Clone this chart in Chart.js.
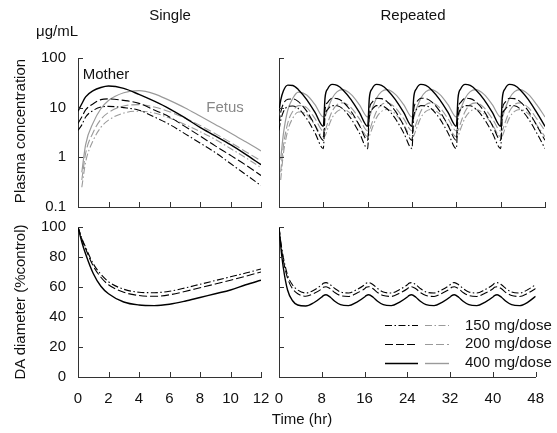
<!DOCTYPE html>
<html><head><meta charset="utf-8">
<script src="https://cdn.jsdelivr.net/npm/chart.js@4"></script>
<style>
html,body{margin:0;padding:0;background:#fff;}
#wrap{position:relative;width:557px;height:433px;overflow:hidden;font-family:"Liberation Sans",Arial,sans-serif;color:#111;}
#wrap canvas{position:absolute;left:0;top:0;}
.t{position:absolute;white-space:nowrap;font-size:15px;line-height:1;transform:translate(-50%,-50%);}
.r{transform:translate(-50%,-50%) rotate(-90deg);}
</style></head><body>
<div id="wrap">
<canvas id="cTL" width="557" height="433"></canvas>
<canvas id="cTR" width="557" height="433"></canvas>
<canvas id="cBL" width="557" height="433"></canvas>
<canvas id="cBR" width="557" height="433"></canvas>
<div class="t" style="left:170px;top:14px">Single</div>
<div class="t" style="left:413px;top:14px">Repeated</div>
<div class="t" style="left:57px;top:30px">μg/mL</div>
<div class="t" style="left:106px;top:73px">Mother</div>
<div class="t" style="left:225px;top:106px;color:#888">Fetus</div>
<div class="t r" style="left:19px;top:131px">Plasma concentration</div>
<div class="t r" style="left:19px;top:302px">DA diameter (%control)</div>
<div class="t" style="left:302px;top:418px">Time (hr)</div>
</div>
<script>
// ---------- data ----------
const tS = [0,0.25,0.5,1,1.5,2,3,4,5,6,7,8,9,10,11,12];
const single150Mother = [3.5,4.5,6.5,8.8,10.3,10.6,10,8.9,6.5,4.6,3,1.95,1.25,0.75,0.45,0.27];
const single200Mother = [4.8,6.5,9,12,14.5,15,14,12.2,9,6.5,4.2,2.7,1.7,1.1,0.7,0.43];
const single400Mother = [8.5,12,16.5,22,25.5,27.3,24.5,18.5,13.5,9.5,6.3,4,2.7,1.8,1.15,0.71];
const single150Fetus = [null,0.25,0.8,2.2,4,5.6,7.8,8.5,7.8,6.2,4.6,3.3,2.3,1.5,0.98,0.62];
const single200Fetus = [null,0.35,1.2,3.2,5.8,8,10.8,11.5,10.3,8.3,6.2,4.4,3.0,2.0,1.3,0.85];
const single400Fetus = [null,0.5,1.8,5,9.5,14,20,22,19,14,10,6.8,4.6,3.1,2.05,1.35];

const daSingle150 = [100,92.5,86.5,75.5,68.5,63.5,58.5,56.5,56.2,57.2,59.3,61.8,64.3,66.8,69.3,72];
const daSingle200 = [100,92,85.5,74,66.5,61.5,56.5,54.3,53.8,54.8,57,59.5,62,64.5,67.2,70];
const daSingle400 = [100,90,82,69,60.5,55.5,50,48,47.6,48.5,50.5,53,55.5,58,61.5,64.5];

const tR = [0,0.3,0.8,1.6,2.5,3.5,5,6.5, 8,8.3,8.8,9.6,10.5,11.5,13,14.5, 16,16.3,16.8,17.6,18.5,19.5,21,22.5, 24,24.3,24.8,25.6,26.5,27.5,29,30.5, 32,32.3,32.8,33.6,34.5,35.5,37,38.5, 40,40.3,40.8,41.6,42.5,43.5,45,46.5, 48];
const rep150Mother = [3.5,5.5,8.3,10.5,10.8,9.6,6,3.1, 1.5,6.5,9.2,11,10.9,9.5,6,3.1, 1.5,6.5,9.2,11,10.9,9.5,6,3.1, 1.5,6.5,9.2,11,10.9,9.5,6,3.1, 1.5,6.5,9.2,11,10.9,9.5,6,3.1, 1.5,6.5,9.2,11,10.9,9.5,6,3.1, 1.5];
const rep200Mother = [4.8,8,12,14.8,15,13.2,8.5,4.4, 2.2,9,12.8,15.5,15.2,13.2,8.5,4.4, 2.2,9,12.8,15.5,15.2,13.2,8.5,4.4, 2.2,9,12.8,15.5,15.2,13.2,8.5,4.4, 2.2,9,12.8,15.5,15.2,13.2,8.5,4.4, 2.2,9,12.8,15.5,15.2,13.2,8.5,4.4, 2.2];
const rep400Mother = [8.5,14,22,28.5,28,23,14.5,8, 4.2,15.5,24,29.5,28,23,14.5,8, 4.2,15.5,24,29.5,28,23,14.5,8, 4.2,15.5,24,29.5,28,23,14.5,8, 4.2,15.5,24,29.5,28,23,14.5,8, 4.2,15.5,24,29.5,28,23,14.5,8, 4.2];
const rep150Fetus = [null,0.35,1.2,3.5,6.2,8.2,7.3,4.4, 2.6,2.7,3.8,6.3,8.4,9.2,7.5,4.5, 2.6,2.7,3.8,6.3,8.4,9.2,7.5,4.5, 2.6,2.7,3.8,6.3,8.4,9.2,7.5,4.5, 2.6,2.7,3.8,6.3,8.4,9.2,7.5,4.5, 2.6,2.7,3.8,6.3,8.4,9.2,7.5,4.5, 2.6];
const rep200Fetus = [null,0.5,1.7,5,8.5,11,10,6, 3.4,3.5,5,8.5,11.5,12.5,10,6, 3.4,3.5,5,8.5,11.5,12.5,10,6, 3.4,3.5,5,8.5,11.5,12.5,10,6, 3.4,3.5,5,8.5,11.5,12.5,10,6, 3.4,3.5,5,8.5,11.5,12.5,10,6, 3.4];
const rep400Fetus = [null,0.9,3,9,15.5,20.5,18,11.5, 6.5,6.6,9.5,15.5,21,23,18.5,11.5, 6.5,6.6,9.5,15.5,21,23,18.5,11.5, 6.5,6.6,9.5,15.5,21,23,18.5,11.5, 6.5,6.6,9.5,15.5,21,23,18.5,11.5, 6.5,6.6,9.5,15.5,21,23,18.5,11.5, 6.5];

const daRep150 = [100,91,80,68,61.5,58,56,57.8, 61.5,62.5,62.9,61.5,58.8,56.7,56,58.2, 61.5,62.5,62.9,61.5,58.8,56.7,56,58.2, 61.5,62.5,62.9,61.5,58.8,56.7,56,58.2, 61.5,62.5,62.9,61.5,58.8,56.7,56,58.2, 61.5,62.5,62.9,61.5,58.8,56.7,56,58.2, 61.6];
const daRep200 = [100,90,78,66,59,55.5,53.8,55.6, 58.8,59.8,60.2,58.8,56.2,54.3,53.7,55.8, 58.8,59.8,60.2,58.8,56.2,54.3,53.7,55.8, 58.8,59.8,60.2,58.8,56.2,54.3,53.7,55.8, 58.8,59.8,60.2,58.8,56.2,54.3,53.7,55.8, 58.8,59.8,60.2,58.8,56.2,54.3,53.7,55.8, 59];
const daRep400 = [100,88,73,58,51,48,47.3,49.5, 53.3,54.3,54.8,53.2,50.3,48.2,47.6,49.8, 53.3,54.3,54.8,53.2,50.3,48.2,47.6,49.8, 53.3,54.3,54.8,53.2,50.3,48.2,47.6,49.8, 53.3,54.3,54.8,53.2,50.3,48.2,47.6,49.8, 53.3,54.3,54.8,53.2,50.3,48.2,47.6,49.8, 53.8];

const concTicks = [0.1, 1, 10, 100];
const concTickLabels = ['0.1', '1', '10', '100'];
const doseLabels = ['150 mg/dose', '200 mg/dose', '400 mg/dose'];

// ---------- styles ----------
const BLACK = '#000', GRAY = '#9a9a9a', AXIS = '#333';
const DASHDOT = [7, 2.5, 1.5, 2.5], DASH = [8, 3], SOLID = [];
const FONT = "'Liberation Sans', Arial, sans-serif";
Chart.defaults.font.family = FONT;
Chart.defaults.font.size = 15;
Chart.defaults.color = '#111';

function ds(ts, arr, color, dash, w) {
  return {
    data: ts.map((t, i) => ({x: t, y: arr[i]})),
    borderColor: color, borderDash: dash, borderWidth: w,
    pointRadius: 0, fill: false, cubicInterpolationMode: 'monotone', spanGaps: false
  };
}

const inwardTicks = {
  id: 'inwardTicks',
  afterDraw(chart) {
    const ctx = chart.ctx, a = chart.chartArea, xs = chart.scales.x, ys = chart.scales.y;
    ctx.save();
    ctx.strokeStyle = AXIS; ctx.lineWidth = 1; ctx.setLineDash([]);
    ctx.beginPath();
    xs.ticks.forEach(t => {
      const px = Math.round(xs.getPixelForValue(t.value)) + 0.5;
      ctx.moveTo(px, a.bottom); ctx.lineTo(px, a.bottom - 5);
    });
    ys.ticks.forEach(t => {
      const py = Math.round(ys.getPixelForValue(t.value)) + 0.5;
      ctx.moveTo(a.left, py); ctx.lineTo(a.left + 5, py);
    });
    ctx.stroke();
    ctx.restore();
  }
};

const legendPlugin = {
  id: 'doseLegend',
  afterDraw(chart) {
    const ctx = chart.ctx;
    const rows = [[DASHDOT, 325], [DASH, 343.5], [SOLID, 362.5]];
    ctx.save();
    rows.forEach((r, i) => {
      const y = Math.round(r[1]) + 0.5;
      ctx.setLineDash(r[0]);
      ctx.lineWidth = i === 2 ? 1.4 : 1.1;
      ctx.strokeStyle = BLACK;
      ctx.beginPath(); ctx.moveTo(385, y); ctx.lineTo(418, y); ctx.stroke();
      ctx.strokeStyle = GRAY;
      ctx.beginPath(); ctx.moveTo(425, y); ctx.lineTo(449, y); ctx.stroke();
      ctx.setLineDash([]);
      ctx.fillStyle = '#111';
      ctx.font = '15px ' + FONT;
      ctx.textAlign = 'left'; ctx.textBaseline = 'middle';
      ctx.fillText(doseLabels[i], 465, r[1] + 0.5);
    });
    ctx.restore();
  }
};

function makeChart(id, area, xMax, xStep, xLabels, yCfg, yLabels, datasets, extra) {
  const xH = xLabels ? 40 : 0;
  const yScale = Object.assign({
    border: {display: true, color: AXIS, width: 1},
    grid: {drawOnChartArea: false, drawTicks: false},
    afterFit(s) { s.width = area.l; }
  }, yCfg);
  yScale.ticks = Object.assign({display: yLabels, padding: 12, color: '#111'}, yCfg.ticks || {});
  return new Chart(document.getElementById(id), {
    type: 'line',
    data: {datasets},
    plugins: [inwardTicks].concat(extra || []),
    options: {
      responsive: false, animation: false, events: [],
      layout: {padding: {left: 0, top: area.t, right: 557 - area.r, bottom: 433 - area.b - xH}},
      plugins: {legend: {display: false}, tooltip: {enabled: false}, title: {display: false}},
      scales: {
        x: {
          type: 'linear', min: 0, max: xMax,
          border: {display: true, color: AXIS, width: 1},
          grid: {drawOnChartArea: false, drawTicks: false},
          ticks: {display: xLabels, stepSize: xStep, padding: 13, color: '#111', maxRotation: 0, autoSkip: false},
          afterFit(s) { s.height = xH; }
        },
        y: yScale
      }
    }
  });
}

const logY = {
  type: 'logarithmic', min: 0.1, max: 100,
  afterBuildTicks(s) { s.ticks = concTicks.map(v => ({value: v})); },
  ticks: {callback: (v) => { const i = concTicks.indexOf(v); return i >= 0 ? concTickLabels[i] : ''; }}
};
const linY = {type: 'linear', min: 0, max: 100, ticks: {stepSize: 20}};

function concSets(ts, m150, m200, m400, f150, f200, f400) {
  return [
    ds(ts, m400, BLACK, SOLID, 1.4),
    ds(ts, m200, BLACK, DASH, 1.1),
    ds(ts, m150, BLACK, DASHDOT, 1.1),
    ds(ts, f400, GRAY, SOLID, 1.2),
    ds(ts, f200, GRAY, DASH, 1.1),
    ds(ts, f150, GRAY, DASHDOT, 1.1)
  ];
}

makeChart('cTL', {l: 78, r: 261, t: 58, b: 207}, 12, 2, false, logY, true,
  concSets(tS, single150Mother, single200Mother, single400Mother, single150Fetus, single200Fetus, single400Fetus));
makeChart('cTR', {l: 279, r: 545, t: 58, b: 207}, 48, 8, false, logY, false,
  concSets(tR, rep150Mother, rep200Mother, rep400Mother, rep150Fetus, rep200Fetus, rep400Fetus));
makeChart('cBL', {l: 78, r: 261, t: 227, b: 377}, 12, 2, true, linY, true, [
  ds(tS, daSingle400, BLACK, SOLID, 1.4),
  ds(tS, daSingle200, BLACK, DASH, 1.1),
  ds(tS, daSingle150, BLACK, DASHDOT, 1.1)
]);
makeChart('cBR', {l: 279, r: 545, t: 227, b: 377}, 48, 8, true, linY, false, [
  ds(tR, daRep400, BLACK, SOLID, 1.4),
  ds(tR, daRep200, BLACK, DASH, 1.1),
  ds(tR, daRep150, BLACK, DASHDOT, 1.1)
], [legendPlugin]);
</script>
</body></html>
